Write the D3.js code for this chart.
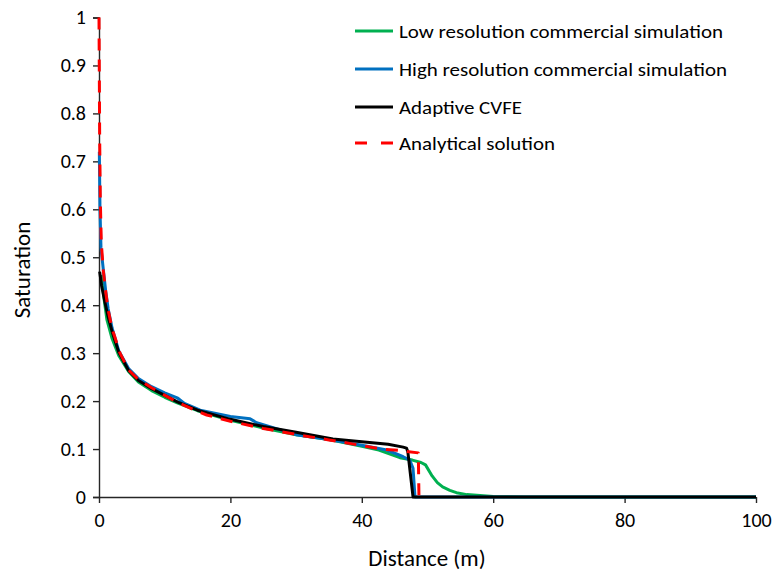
<!DOCTYPE html>
<html><head><meta charset="utf-8">
<script src="https://cdn.jsdelivr.net/npm/d3@7"></script>
<style>body{margin:0;background:#fff}svg{display:block}text{font-family:Carlito,Calibri,Lato,"Liberation Sans",sans-serif}</style>
</head><body><svg id="c" width="776" height="573"></svg>
<script>
const xTicks = [0,20,40,60,80,100];
const yTicks = [0,0.1,0.2,0.3,0.4,0.5,0.6,0.7,0.8,0.9,1];
const seriesNames = ["Low resolution commercial simulation","High resolution commercial simulation","Adaptive CVFE","Analytical solution"];
const seriesColors = ["#00B050","#0070C0","#000000","#FF0000"];

const lowX = [0.4,0.7,1.2,2,3,4.5,6,8,10,12,15,20,25,30,35,40,42.6,45.8,47.7,49,49.7,50.7,51.5,52.3,53.4,54.4,56,58,60,65,100];
const lowY = [0.463,0.42,0.37,0.33,0.295,0.262,0.24,0.222,0.208,0.196,0.18,0.16,0.144,0.13,0.12,0.106,0.098,0.082,0.077,0.072,0.067,0.044,0.03,0.021,0.014,0.009,0.005,0.003,0.001,0,0];

const highX = [0.05,0.15,0.3,0.65,1.0,1.4,2,3,4.5,6,8,10,12,13,15.4,20,23,24,30,35,40,43.8,46.3,47.3,47.8,48.1,100];
const highY = [0.72,0.6,0.52,0.475,0.432,0.392,0.352,0.305,0.268,0.247,0.23,0.217,0.206,0.195,0.181,0.168,0.163,0.155,0.13,0.12,0.108,0.098,0.084,0.077,0.06,0,0];

const cvfeX = [0.1,0.4,1.0,1.4,2,3,4.5,6,8,10,12,15,20,25,30,35.6,40,44,46.3,46.8,47.0,47.8,100];
const cvfeY = [0.47,0.44,0.4,0.375,0.345,0.302,0.264,0.243,0.226,0.212,0.198,0.181,0.162,0.147,0.135,0.121,0.115,0.11,0.104,0.102,0.095,0,0];

const anaX = [0,0.05,0.1,0.2,0.35,0.65,1.0,1.4,2.0,2.4,3.2,4.5,6,8,9.5,12,14.6,16.4,20,25,30.6,35,39.7,43,45.8,48.6,48.7];
const anaY = [1,0.88,0.75,0.62,0.53,0.473,0.43,0.39,0.35,0.334,0.3,0.265,0.245,0.228,0.216,0.197,0.181,0.171,0.158,0.143,0.129,0.119,0.108,0.1,0.097,0.092,0];

const svg = d3.select("#c");
const x = d3.scaleLinear().domain([0,100]).range([99,756]);
const y = d3.scaleLinear().domain([0,1]).range([497,17.5]);

const axisColor = "#262626";
const xAxis = svg.append("g").attr("transform","translate(0,497)")
  .call(d3.axisBottom(x).tickValues(xTicks).tickSize(6).tickPadding(10).tickFormat(d3.format("d")));
const yAxis = svg.append("g").attr("transform","translate(99,0)")
  .call(d3.axisLeft(y).tickValues(yTicks).tickSize(6).tickPadding(7).tickFormat(d=>d===0?"0":d===1?"1":d3.format(".1f")(d)));
[xAxis,yAxis].forEach(g=>{
  g.select(".domain").attr("stroke",axisColor).attr("stroke-width",1.4);
  g.selectAll(".tick line").attr("stroke",axisColor).attr("stroke-width",1.4);
  g.selectAll(".tick text").attr("fill","#000").style("font-size","20px");
});
xAxis.select(".domain").attr("d","M99,0.5H756");

const line = d3.line().x(d=>x(d[0])).y(d=>y(d[1]));
const zip = (a,b)=>a.map((v,i)=>[v,b[i]]);
const data = [zip(lowX,lowY), zip(highX,highY), zip(cvfeX,cvfeY), zip(anaX,anaY)];
data.forEach((d,i)=>{
  svg.append("path").datum(d).attr("d",line).attr("fill","none")
    .attr("stroke",seriesColors[i]).attr("stroke-width",3)
    .attr("stroke-linejoin","round")
    .attr("stroke-dasharray",i===3?"12,9":null);
});

// legend
const legY = [31,69,107,143];
const legW = [324,328,123,156];
seriesNames.forEach((n,i)=>{
  svg.append("line").attr("x1",355).attr("x2",393).attr("y1",legY[i]).attr("y2",legY[i])
    .attr("stroke",seriesColors[i]).attr("stroke-width",3)
    .attr("stroke-dasharray",i===3?"12,14":null);
  svg.append("text").attr("x",399).attr("y",legY[i]).attr("dy","0.35em")
    .style("font-size","19px").attr("textLength",legW[i]).attr("lengthAdjust","spacingAndGlyphs").text(n);
});

svg.append("text").attr("x",427).attr("y",558).attr("dy","0.35em").attr("text-anchor","middle")
  .style("font-size","23px").text("Distance (m)");
svg.append("text").attr("transform","translate(22,270) rotate(-90)").attr("dy","0.35em").attr("text-anchor","middle")
  .style("font-size","23px").text("Saturation");
</script></body></html>
